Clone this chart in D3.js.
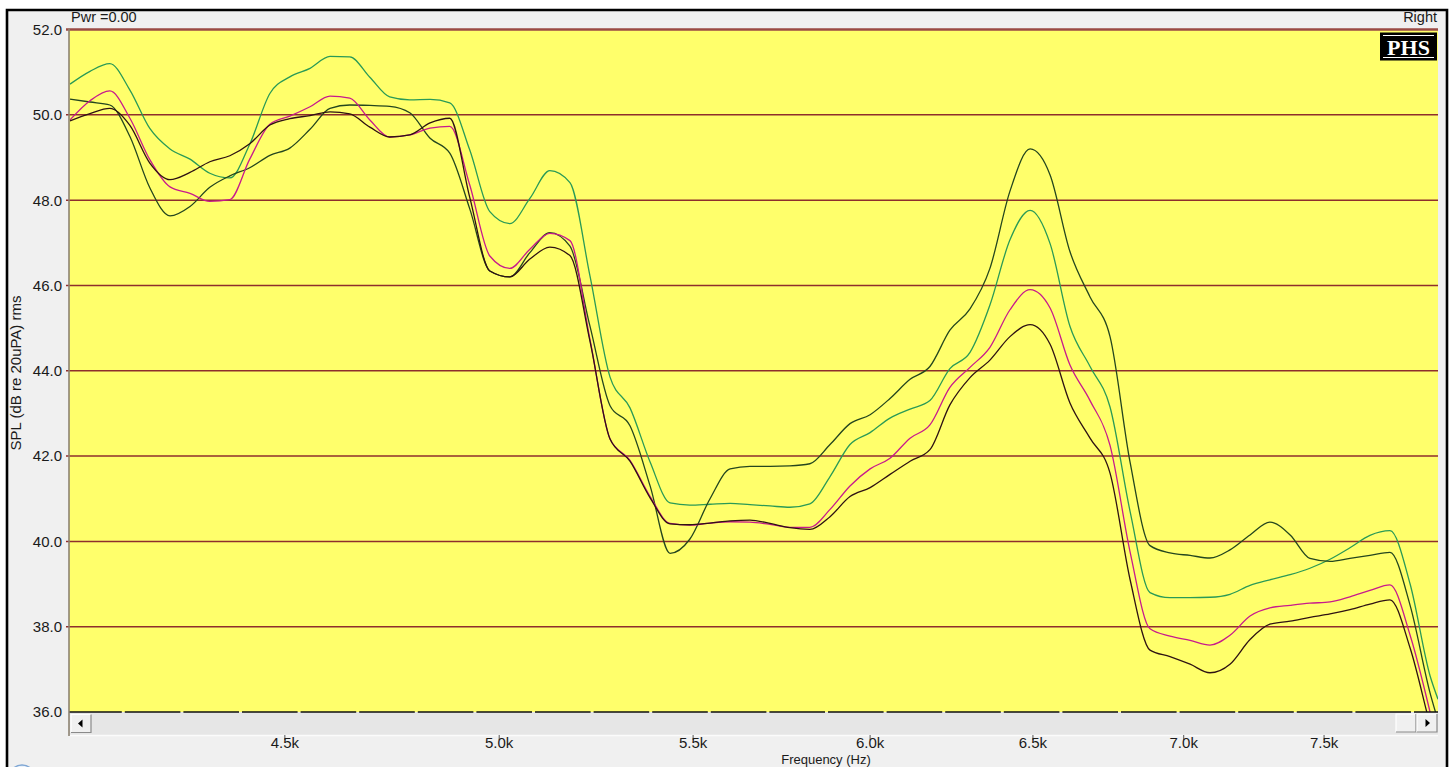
<!DOCTYPE html>
<html><head><meta charset="utf-8">
<script src="https://cdn.jsdelivr.net/npm/d3@7"></script>
<style>html,body{margin:0;padding:0;background:#fff;overflow:hidden}</style>
</head><body>
<svg id="c" width="1456" height="767"></svg>
<script>
// ---------------- DATA ----------------
const FREQ = [4049, 4089, 4129, 4170, 4211, 4253, 4295, 4337, 4380, 4423,
              4467, 4511, 4556, 4601, 4646, 4692, 4738, 4785, 4833, 4880,
              4928, 4977, 5026, 5076, 5126, 5177, 5228, 5280, 5332, 5385,
              5438, 5491, 5546, 5601, 5656, 5712, 5768, 5825, 5883, 5941,
              6000, 6059, 6119, 6179, 6240, 6302, 6364, 6427, 6491, 6555,
              6619, 6685, 6751, 6818, 6885, 6953, 7022, 7091, 7161, 7232,
              7303, 7376, 7448, 7522, 7596, 7671, 7747, 7824, 7901, 7932];

const TEAL = [50.72, 51.02, 51.20, 50.58, 49.68, 49.20, 48.96, 48.63, 48.52, 49.31,
              50.50, 50.89, 51.09, 51.37, 51.36, 50.88, 50.42, 50.35, 50.36, 50.28,
              49.18, 47.73, 47.45, 48.04, 48.69, 48.41, 46.23, 43.85, 43.13, 41.86,
              40.90, 40.85, 40.87, 40.89, 40.86, 40.83, 40.80, 40.88, 41.52, 42.27,
              42.55, 42.89, 43.10, 43.30, 44.05, 44.43, 45.54, 47.07, 47.76, 46.98,
              45.05, 44.10, 43.15, 40.70, 38.80, 38.68, 38.68, 38.69, 38.76, 38.97,
              39.10, 39.22, 39.37, 39.58, 39.85, 40.14, 40.25, 39.00, 36.85, 36.30];

const DARK_GREEN = [50.37, 50.30, 50.23, 49.49, 48.29, 47.63, 47.85, 48.30, 48.57, 48.76,
                    49.05, 49.22, 49.66, 50.15, 50.23, 50.22, 50.20, 50.05, 49.45, 49.10,
                    47.80, 46.34, 46.20, 46.77, 47.24, 46.92, 45.05, 43.18, 42.71, 41.30,
                    39.72, 40.05, 41.00, 41.70, 41.76, 41.76, 41.77, 41.82, 42.27, 42.76,
                    42.97, 43.35, 43.80, 44.10, 44.95, 45.45, 46.40, 48.21, 49.20, 48.59,
                    46.80, 45.73, 44.80, 41.85, 39.90, 39.73, 39.67, 39.61, 39.80, 40.15,
                    40.45, 40.15, 39.60, 39.53, 39.60, 39.67, 39.74, 38.50, 36.45, 35.80];

const MAGENTA = [49.88, 50.33, 50.56, 49.92, 48.95, 48.31, 48.16, 47.97, 48.01, 48.96,
                 49.78, 49.97, 50.19, 50.44, 50.39, 49.88, 49.48, 49.53, 49.69, 49.73,
                 48.36, 46.69, 46.40, 46.85, 47.22, 47.05, 44.74, 42.40, 41.90, 41.05,
                 40.42, 40.38, 40.43, 40.46, 40.45, 40.40, 40.33, 40.33, 40.75, 41.30,
                 41.70, 41.95, 42.42, 42.73, 43.61, 44.08, 44.55, 45.43, 45.90, 45.47,
                 44.14, 43.30, 42.25, 39.75, 37.95, 37.78, 37.68, 37.57, 37.80, 38.25,
                 38.44, 38.50, 38.55, 38.58, 38.70, 38.85, 38.98, 37.80, 36.00, 35.20];

const DARK = [49.86, 50.03, 50.15, 49.75, 48.87, 48.48, 48.65, 48.90, 49.04, 49.32,
              49.76, 49.91, 49.98, 50.07, 50.02, 49.71, 49.48, 49.53, 49.81, 49.92,
              48.07, 46.34, 46.20, 46.62, 46.90, 46.70, 44.70, 42.40, 41.88, 41.02,
              40.41, 40.39, 40.43, 40.48, 40.50, 40.42, 40.32, 40.28, 40.58, 41.05,
              41.26, 41.57, 41.88, 42.15, 43.20, 43.84, 44.25, 44.80, 45.08, 44.62,
              43.25, 42.42, 41.60, 39.10, 37.45, 37.30, 37.12, 36.92, 37.12, 37.70,
              38.06, 38.13, 38.22, 38.30, 38.40, 38.53, 38.63, 37.50, 35.70, 35.00];

const SERIES = [
  {name: "Teal", values: TEAL, color: "#2a9a56"},
  {name: "Dark green", values: DARK_GREEN, color: "#24461e"},
  {name: "Magenta", values: MAGENTA, color: "#c81a8c"},
  {name: "Dark", values: DARK, color: "#2e1212"}
];

const X_TICKS = [4500, 5000, 5500, 6000, 6500, 7000, 7500];
const X_TICK_LABELS = ["4.5k", "5.0k", "5.5k", "6.0k", "6.5k", "7.0k", "7.5k"];
const Y_TICKS = [36, 38, 40, 42, 44, 46, 48, 50, 52];
const Y_TICK_LABELS = ["36.0", "38.0", "40.0", "42.0", "44.0", "46.0", "48.0", "50.0", "52.0"];
const X_DOMAIN = [4047, 7932];
const Y_DOMAIN = [36, 52];

const TITLE_LEFT = "Pwr =0.00";
const TITLE_RIGHT = "Right";
const X_LABEL = "Frequency (Hz)";
const Y_LABEL = "SPL (dB re 20uPA) rms";
const BADGE = "PHS";

// ---------------- DRAWING ----------------
const W = 1456, H = 767;
const L = 69, R = 1438, T = 29.5, B = 712;
const svg = d3.select("#c");
const font = "Arial, 'Liberation Sans', sans-serif";

svg.append("rect").attr("width", W).attr("height", H).attr("fill", "#ffffff");
svg.append("rect").attr("x", 7).attr("y", 10).attr("width", 1440).attr("height", 800).attr("fill", "#f0f0f0");

const x = d3.scaleLog().domain(X_DOMAIN).range([L, R]);
const y = d3.scaleLinear().domain(Y_DOMAIN).range([B, T]);

// plot background
svg.append("rect").attr("x", L).attr("y", T).attr("width", R - L).attr("height", B - T).attr("fill", "#ffff6b");

// horizontal grid
const gridY = Y_TICKS.filter(v => v > Y_DOMAIN[0]);
svg.append("g").selectAll("line").data(gridY).join("line")
  .attr("x1", L - 3).attr("x2", R)
  .attr("y1", d => y(d)).attr("y2", d => y(d))
  .attr("stroke", d => d === 52 ? "#9a4a44" : "#8e2e2c")
  .attr("stroke-width", d => d === 52 ? 2.6 : 1.5);

// y tick labels
svg.append("g").selectAll("text").data(Y_TICKS).join("text")
  .attr("x", 62).attr("y", d => y(d)).attr("dy", "0.36em")
  .attr("text-anchor", "end").attr("font-family", font).attr("font-size", 15)
  .attr("fill", "#1a1a1a").text((d, i) => Y_TICK_LABELS[i]);

// curves
const clip = svg.append("clipPath").attr("id", "plotclip");
clip.append("rect").attr("x", L).attr("y", T).attr("width", R - L).attr("height", B - T);
const line = d3.line().x(d => x(d[0])).y(d => y(d[1])).curve(d3.curveMonotoneX);
svg.append("g").attr("clip-path", "url(#plotclip)")
  .selectAll("path").data(SERIES).join("path")
  .attr("d", s => line(FREQ.map((f, i) => [f, s.values[i]])))
  .attr("fill", "none").attr("stroke", s => s.color).attr("stroke-width", 1.3)
  .attr("stroke-linejoin", "round");

// scroll bar area
svg.append("rect").attr("x", L).attr("y", B).attr("width", R - L).attr("height", 23).attr("fill", "#e6e6e6");
svg.append("line").attr("x1", L).attr("x2", R).attr("y1", 735.5).attr("y2", 735.5).attr("stroke", "#fbfbfb").attr("stroke-width", 1.5);
// bottom axis line with small gaps
svg.append("line").attr("x1", L).attr("x2", R).attr("y1", B).attr("y2", B)
  .attr("stroke", "#111").attr("stroke-width", 1.6)
  .attr("stroke-dasharray", "55.6,3").attr("stroke-dashoffset", 2.8);

function button(bx, by, dir) {
  const g = svg.append("g");
  g.append("rect").attr("x", bx).attr("y", by).attr("width", 20).attr("height", 18).attr("fill", "#f0f0f0");
  g.append("path").attr("d", `M${bx},${by + 18}V${by}H${bx + 20}`).attr("fill", "none").attr("stroke", "#ffffff").attr("stroke-width", 1.2);
  g.append("path").attr("d", `M${bx},${by + 18}H${bx + 20}V${by}`).attr("fill", "none").attr("stroke", "#8a8a8a").attr("stroke-width", 1.2);
  const cx = bx + 10, cy = by + 9;
  if (dir === "l") g.append("path").attr("d", `M${cx - 3},${cy}L${cx + 1.5},${cy - 4}V${cy + 4}Z`).attr("fill", "#000");
  else if (dir === "r") g.append("path").attr("d", `M${cx + 3},${cy}L${cx - 1.5},${cy - 4}V${cy + 4}Z`).attr("fill", "#000");
}
button(71, 714.5, "l");
button(1396, 714, "");
button(1417, 714, "r");

// left axis line
svg.append("line").attr("x1", L).attr("x2", L).attr("y1", T - 1).attr("y2", 736)
  .attr("stroke", "#8c8272").attr("stroke-width", 1.6);

// x ticks
svg.append("g").selectAll("line").data(X_TICKS).join("line")
  .attr("x1", d => x(d)).attr("x2", d => x(d)).attr("y1", 735).attr("y2", 740)
  .attr("stroke", "#555").attr("stroke-width", 1);
svg.append("g").selectAll("text").data(X_TICKS).join("text")
  .attr("x", d => x(d)).attr("y", 748).attr("text-anchor", "middle")
  .attr("font-family", font).attr("font-size", 15).attr("fill", "#1a1a1a")
  .text((d, i) => X_TICK_LABELS[i]);

svg.append("text").attr("x", 826).attr("y", 763.5).attr("text-anchor", "middle")
  .attr("font-family", font).attr("font-size", 13).attr("fill", "#1a1a1a").text(X_LABEL);

svg.append("text").attr("transform", "translate(20.5,373) rotate(-90)")
  .attr("text-anchor", "middle").attr("font-family", font).attr("font-size", 15)
  .attr("fill", "#1a1a1a").text(Y_LABEL);

svg.append("text").attr("x", 71).attr("y", 21.5).attr("font-family", font).attr("font-size", 14.5)
  .attr("fill", "#1a1a1a").text(TITLE_LEFT);
svg.append("text").attr("x", 1437).attr("y", 21.5).attr("text-anchor", "end").attr("font-family", font)
  .attr("font-size", 14.5).attr("fill", "#1a1a1a").text(TITLE_RIGHT);

// PHS badge
const bg = svg.append("g");
bg.append("rect").attr("x", 1380).attr("y", 32.5).attr("width", 57).attr("height", 28).attr("fill", "#000");
bg.append("line").attr("x1", 1383).attr("x2", 1434).attr("y1", 35.5).attr("y2", 35.5).attr("stroke", "#fff").attr("stroke-width", 1.2);
bg.append("line").attr("x1", 1383).attr("x2", 1434).attr("y1", 57.5).attr("y2", 57.5).attr("stroke", "#fff").attr("stroke-width", 1.2);
bg.append("text").attr("x", 1408.5).attr("y", 54.5).attr("text-anchor", "middle")
  .attr("font-family", "'Liberation Serif', 'Times New Roman', serif").attr("font-weight", "bold")
  .attr("font-size", 22).attr("fill", "#fff").text(BADGE);

// small icon at bottom-left
svg.append("circle").attr("cx", 22).attr("cy", 778).attr("r", 13).attr("fill", "#e9f1fa").attr("stroke", "#7ea6d4").attr("stroke-width", 1.5);

// window frame (drawn last)
svg.append("path").attr("d", "M7,770V10H1447V770").attr("fill", "none").attr("stroke", "#000").attr("stroke-width", 2.6);
</script>
</body></html>
